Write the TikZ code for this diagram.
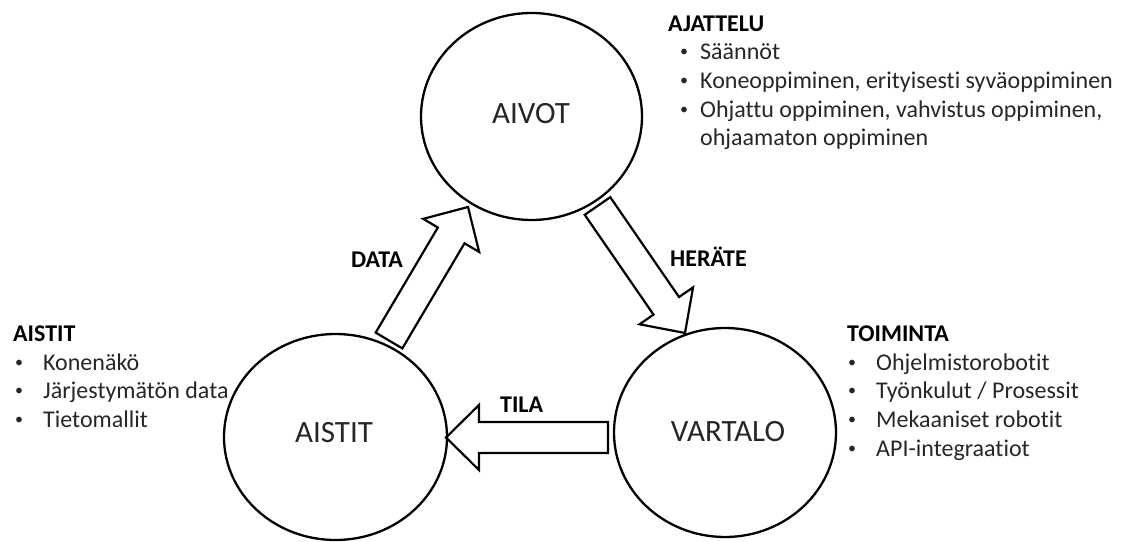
\documentclass[tikz,border=0pt]{standalone}
\usepackage{fontspec}
\setmainfont{Carlito}[Ligatures={NoCommon}]
\usetikzlibrary{shapes.geometric,calc}
\definecolor{txt}{HTML}{262626}
\newcommand\itm[2]{\makebox[#1][l]{\hspace{1pt}\raisebox{3pt}{\fontsize{16}{16}\selectfont•}}#2}
\newcommand\blockarr[2]{%
  \coordinate (#1H) at ($(#2)!33pt!(#1)$);
  \draw[barrow] ($(#1)!15.5pt!90:(#2)$) -- ($(#1H)!15.5pt!90:(#2)$) -- ($(#1H)!32.5pt!90:(#2)$)
    -- (#2) -- ($(#1H)!32.5pt!-90:(#2)$) -- ($(#1H)!15.5pt!-90:(#2)$) -- ($(#1)!15.5pt!-90:(#2)$) -- cycle;}
\tikzset{
  circ/.style={draw, ellipse, line width=2.3pt, inner sep=0pt},
  big/.style={font=\fontsize{31}{37}\selectfont, text=txt, anchor=base, inner sep=0pt},
  body/.style={font=\fontsize{24}{29}\selectfont, text=txt, anchor=base west, inner sep=0pt},
  head/.style={font=\fontsize{24}{29}\selectfont\bfseries, text=black, anchor=base west, inner sep=0pt},
  lbl/.style={font=\fontsize{24}{29}\selectfont\bfseries, text=black, inner sep=0pt},
  barrow/.style={draw, line width=2.2pt, line join=miter, miter limit=20},
}
\begin{document}
\begin{tikzpicture}[x=1pt,y=-1pt]
\useasboundingbox (0,0) rectangle (1130,541);
% circles
\node[circ, minimum width=221pt, minimum height=207pt] (aivot) at (531.5,116.5) {};
\node[circ, minimum width=223pt, minimum height=206pt] (aistit) at (335.5,437) {};
\node[circ, minimum width=222pt, minimum height=209pt] (vartalo) at (725,432.5) {};
\node[big] (aivotL) at (531,123) {AIVOT};
\node[big] (aistitL) at (334,442) {AISTIT};
\node[big] (vartaloL) at (728,441) {VARTALO};
% arrows
\coordinate (dataT) at (389,340.5);
\coordinate (dataP) at (468,207);
\coordinate (herT) at (597.5,206);
\coordinate (herP) at (685,333);
\coordinate (tilaT) at (608,437.5);
\coordinate (tilaP) at (446,437.5);
\blockarr{dataT}{dataP}
\blockarr{herT}{herP}
\blockarr{tilaT}{tilaP}
\node[lbl, anchor=base east] (dataL) at (403,267) {DATA};
\node[lbl, anchor=base west] (herL) at (670,266) {HERÄTE};
\node[lbl, anchor=base west] (tilaL) at (500,412) {TILA};
% AJATTELU block
\node[head] (ajH) at (668,31) {AJATTELU};
\node[body] (aj1) at (679,59) {\itm{21pt}{Säännöt}};
\node[body] (aj2) at (679,88) {\itm{21pt}{Koneoppiminen, erityisesti syväoppiminen}};
\node[body] (aj3) at (679,117) {\itm{21pt}{Ohjattu oppiminen, vahvistus oppiminen,}};
\node[body] (aj4) at (700,145.5) {ohjaamaton oppiminen};
% AISTIT block
\node[head] (asH) at (13,341) {AISTIT};
\node[body] (as1) at (14,370) {\itm{29pt}{Konenäkö}};
\node[body] (as2) at (14,398.5) {\itm{29pt}{Järjestymätön data}};
\node[body] (as3) at (14,427) {\itm{29pt}{Tietomallit}};
% TOIMINTA block
\node[head] (toH) at (847,341) {TOIMINTA};
\node[body] (to1) at (847,370) {\itm{29pt}{Ohjelmistorobotit}};
\node[body] (to2) at (847,398.5) {\itm{29pt}{Työnkulut / Prosessit}};
\node[body] (to3) at (847,427) {\itm{29pt}{Mekaaniset robotit}};
\node[body] (to4) at (847,456) {\itm{29pt}{API-integraatiot}};
\end{tikzpicture}
\end{document}
